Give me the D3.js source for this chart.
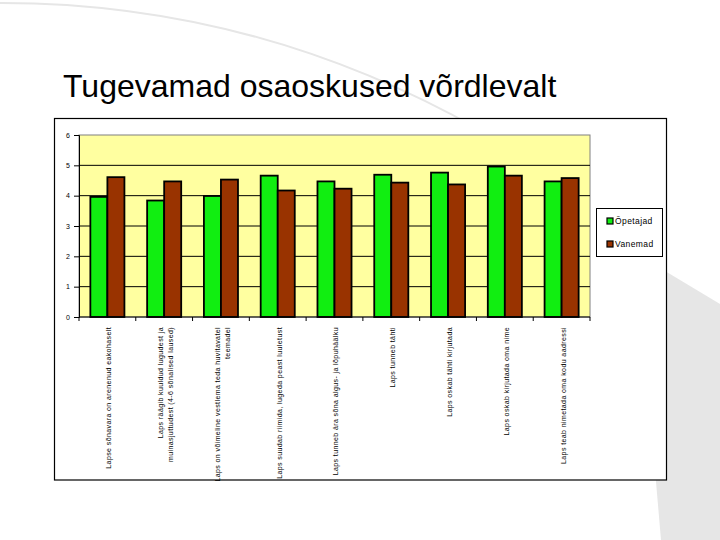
<!DOCTYPE html>
<html>
<head>
<meta charset="utf-8">
<script src="https://cdn.jsdelivr.net/npm/d3@7"></script>
<style>
  body { margin: 0; background: #fff; }
  svg { display: block; }
</style>
</head>
<body>
<svg id="chart"></svg>
<script>
const categories = [
  ['Lapse sõnavara on arenenud eakohaselt'],
  ['Laps räägib kuuldud lugudest ja', 'muinasjuttudest (4-6 sõnalised laused)'],
  ['Laps on võimeline vestlema teda huvitavatel', 'teemadel'],
  ['Laps suudab riimida, lugeda peast luuletust'],
  ['Laps tunneb ära sõna algus- ja lõpuhäälku'],
  ['Laps tunneb tähti'],
  ['Laps oskab tähti kirjutada'],
  ['Laps oskab kirjutada oma nime'],
  ['Laps teab nimetada oma kodu aadressi']
];
const seriesNames = ['Õpetajad', 'Vanemad'];
const opetajad = [3.96, 3.84, 3.99, 4.66, 4.47, 4.69, 4.76, 4.96, 4.47];
const vanemad = [4.61, 4.47, 4.53, 4.17, 4.23, 4.43, 4.37, 4.66, 4.58];
const yTicks = [0, 1, 2, 3, 4, 5, 6];
const colors = ['#11ee11', '#993300'];

const svg = d3.select('#chart').attr('width', 720).attr('height', 540);

// slide decoration
svg.append('path')
  .attr('d', 'M-10,3 Q250,0 480,130')
  .attr('fill', 'none')
  .attr('stroke', '#e6e6e6')
  .attr('stroke-width', 2);
svg.append('path')
  .attr('d', 'M650,262 L720,304 L720,540 L661,540 L655,470 Z')
  .attr('fill', '#e6e6e6');

svg.append('text')
  .attr('x', 63)
  .attr('y', 97)
  .attr('font-family', 'Liberation Sans, Arial, sans-serif')
  .attr('font-size', 32)
  .attr('fill', '#000')
  .text('Tugevamad osaoskused võrdlevalt');

// chart frame
svg.append('rect')
  .attr('x', 54.5).attr('y', 118.5)
  .attr('width', 612).attr('height', 361.5)
  .attr('fill', '#fff')
  .attr('stroke', '#000')
  .attr('stroke-width', 1.2);

const pLeft = 79, pRight = 590, pTop = 135, pBottom = 317;

const x = d3.scaleBand()
  .domain(d3.range(categories.length))
  .range([pLeft, pRight])
  .paddingInner(0.4)
  .paddingOuter(0.2);
const xs = d3.scaleBand()
  .domain(seriesNames)
  .range([0, x.bandwidth()]);
const y = d3.scaleLinear().domain([0, 6]).range([pBottom, pTop]);

svg.append('rect')
  .attr('x', pLeft).attr('y', pTop)
  .attr('width', pRight - pLeft).attr('height', pBottom - pTop)
  .attr('fill', '#ffffa0')
  .attr('stroke', '#808080')
  .attr('stroke-width', 1);

svg.append('g')
  .selectAll('line')
  .data(yTicks.filter(d => d > 0 && d < 6))
  .enter()
  .append('line')
  .attr('x1', pLeft).attr('x2', pRight)
  .attr('y1', d => y(d)).attr('y2', d => y(d))
  .attr('stroke', '#000')
  .attr('stroke-width', 1);

const groups = svg.append('g')
  .selectAll('g')
  .data(categories.map((c, i) => [opetajad[i], vanemad[i]]))
  .enter()
  .append('g')
  .attr('transform', (d, i) => 'translate(' + x(i) + ',0)');

groups.selectAll('rect')
  .data(d => d.map((v, j) => ({ v: v, s: seriesNames[j], c: colors[j] })))
  .enter()
  .append('rect')
  .attr('x', d => xs(d.s))
  .attr('width', xs.bandwidth())
  .attr('y', d => y(d.v))
  .attr('height', d => y(0) - y(d.v))
  .attr('fill', d => d.c)
  .attr('stroke', '#000')
  .attr('stroke-width', 1.8);

// y axis
const yAxis = svg.append('g')
  .attr('transform', 'translate(' + pLeft + ',0)')
  .call(d3.axisLeft(y).tickValues(yTicks).tickSize(5).tickPadding(4).tickFormat(d3.format('d')));
yAxis.select('.domain').attr('stroke', '#000');
yAxis.selectAll('text')
  .attr('font-family', 'Liberation Sans, Arial, sans-serif')
  .attr('font-size', 7)
  .attr('fill', '#000');

// x axis
const xb = d3.scalePoint().domain(d3.range(categories.length + 1)).range([pLeft, pRight]);
const xAxis = svg.append('g').attr('transform', 'translate(0,' + pBottom + ')');
xAxis.append('line')
  .attr('x1', pLeft).attr('x2', pRight)
  .attr('stroke', '#000').attr('stroke-width', 1.2);
xAxis.selectAll('.tick')
  .data(xb.domain())
  .enter()
  .append('line')
  .attr('class', 'tick')
  .attr('x1', d => xb(d)).attr('x2', d => xb(d))
  .attr('y1', 0).attr('y2', 4)
  .attr('stroke', '#000');

const labels = xAxis.selectAll('.lbl')
  .data(categories)
  .enter()
  .append('g')
  .attr('class', 'lbl')
  .attr('transform', (d, i) => 'translate(' + (x(i) + x.bandwidth() / 2 + 1.5) + ',10) rotate(-90)');

labels.selectAll('text')
  .data(d => d.map((t, k) => ({ t: t, k: k, n: d.length })))
  .enter()
  .append('text')
  .attr('x', 0)
  .attr('y', d => (d.k - (d.n - 1) / 2) * 10)
  .attr('dy', '0.35em')
  .attr('text-anchor', 'end')
  .attr('font-family', 'Liberation Sans, Arial, sans-serif')
  .attr('font-size', 7)
  .attr('letter-spacing', 0.4)
  .attr('fill', '#000')
  .text(d => d.t);

// legend
const legend = svg.append('g').attr('transform', 'translate(596,208)');
legend.append('rect')
  .attr('x', 0.5).attr('y', 0.5)
  .attr('width', 66).attr('height', 48)
  .attr('fill', '#fff')
  .attr('stroke', '#000');
const items = legend.selectAll('.item')
  .data(seriesNames)
  .enter()
  .append('g')
  .attr('class', 'item')
  .attr('transform', (d, i) => 'translate(11,' + (13 + i * 23) + ')');
items.append('rect')
  .attr('x', 0).attr('y', -3)
  .attr('width', 6).attr('height', 6)
  .attr('fill', (d, i) => colors[i])
  .attr('stroke', '#000')
  .attr('stroke-width', 1.2);
items.append('text')
  .attr('x', 8)
  .attr('dy', '0.35em')
  .attr('font-family', 'Liberation Sans, Arial, sans-serif')
  .attr('font-size', 8.5)
  .attr('letter-spacing', 0.4)
  .attr('fill', '#000')
  .text(d => d);
</script>
</body>
</html>
